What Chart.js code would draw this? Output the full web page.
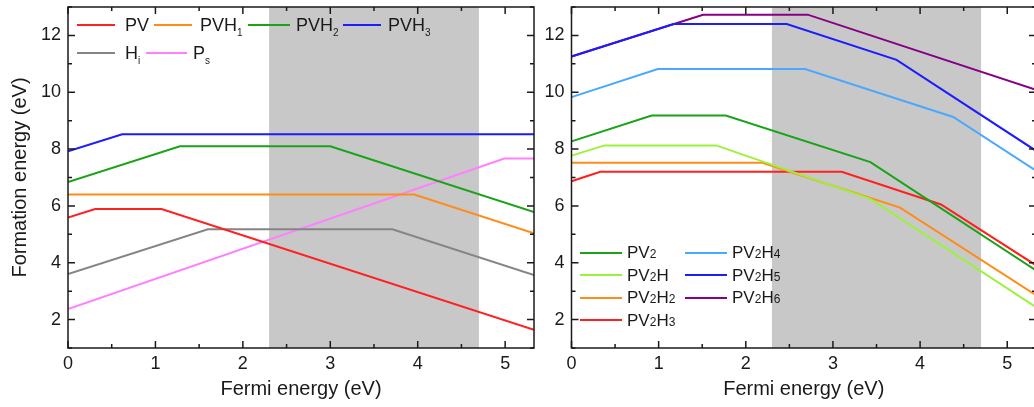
<!DOCTYPE html>
<html><head><meta charset="utf-8">
<script src="https://cdn.jsdelivr.net/npm/chart.js@4.4.1/dist/chart.umd.min.js"></script>
<style>
html,body{margin:0;padding:0;background:#fff;overflow:hidden;width:1034px;height:407px;}
#left{position:absolute;left:0;top:0;}
#right{position:absolute;left:534px;top:0;}
.lgt{position:absolute;font-family:"Liberation Sans",Arial,sans-serif;color:#1a1a1a;white-space:nowrap;}
.lgl{position:absolute;height:2px;}
.subL{font-size:10px;position:relative;top:5px;}
.subR{font-size:12px;}
</style></head><body>
<canvas id="left" width="540" height="407"></canvas>
<canvas id="right" width="506" height="407"></canvas>
<div id="legends"></div>
<script>
// ---------- axes ----------
const xTickValues = [0, 1, 2, 3, 4, 5];
const yTickValues = [2, 4, 6, 8, 10, 12];
const xRange = [0, 5.33];
const yRange = [1, 13];
const bandEdges = [2.3, 4.7];

// ---------- left panel series ----------
const pvX   = [0, 0.31, 1.07, 5.33];      const pvY   = [5.59, 5.89, 5.89, 1.64];
const pvh1X = [0, 3.96, 5.33];            const pvh1Y = [6.40, 6.40, 5.04];
const pvh2X = [0, 1.28, 3.00, 5.33];      const pvh2Y = [6.84, 8.10, 8.10, 5.78];
const pvh3X = [0, 0.62, 5.33];            const pvh3Y = [7.92, 8.52, 8.52];
const hiX   = [0, 1.60, 3.71, 5.33];      const hiY   = [3.60, 5.18, 5.18, 3.57];
const psX   = [0, 4.99, 5.33];            const psY   = [2.37, 7.67, 7.67];

// ---------- right panel series ----------
const pv2X   = [0, 0.92, 1.77, 3.43, 5.33]; const pv2Y   = [8.27, 9.18, 9.18, 7.54, 3.73];
const pv2hX  = [0, 0.38, 1.66, 3.43, 5.33]; const pv2hY  = [7.77, 8.13, 8.13, 6.25, 2.44];
const pv2h2X = [0, 2.19, 3.77, 5.33];       const pv2h2Y = [7.52, 7.52, 5.94, 2.86];
const pv2h3X = [0, 0.33, 3.10, 4.24, 5.33]; const pv2h3Y = [6.87, 7.20, 7.20, 6.05, 3.91];
const pv2h4X = [0, 0.99, 2.68, 4.38, 5.33]; const pv2h4Y = [9.83, 10.82, 10.82, 9.13, 7.24];
const pv2h5X = [0, 1.17, 2.47, 3.73, 5.33]; const pv2h5Y = [11.26, 12.40, 12.40, 11.14, 7.94];
const pv2h6X = [0, 1.51, 2.71, 5.33];       const pv2h6Y = [11.26, 12.73, 12.73, 10.09];

const leftLabels  = ['PV', 'PVH₁', 'PVH₂', 'PVH₃', 'Hᵢ', 'Pₛ'];
const rightLabels = ['PV₂', 'PV₂H', 'PV₂H₂', 'PV₂H₃', 'PV₂H₄', 'PV₂H₅', 'PV₂H₆'];
const leftColors  = ['#ff2020', '#ff8c1a', '#18a318', '#1c1cff', '#858585', '#ff80ff'];
const rightColors = ['#18a318', '#9cf23a', '#ff8c1a', '#ff2020', '#4aa8ff', '#1c1cff', '#850085'];

const FONT = '"Liberation Sans", Arial, sans-serif';
const INK = '#1a1a1a';

function pts(xs, ys) { return xs.map((x, i) => ({ x: x, y: ys[i] })); }
function ds(label, xs, ys, color) {
  return { label: label, data: pts(xs, ys), borderColor: color, backgroundColor: color,
           showLine: true, pointRadius: 0, borderWidth: 2, tension: 0, fill: false };
}

const bandPlugin = {
  id: 'band',
  beforeDatasetsDraw(chart) {
    const { ctx, chartArea: a, scales: { x } } = chart;
    const x0 = x.getPixelForValue(bandEdges[0]), x1 = x.getPixelForValue(bandEdges[1]);
    ctx.save();
    ctx.fillStyle = '#c8c8c8';
    ctx.fillRect(x0, a.top, x1 - x0, a.height);
    ctx.restore();
  }
};

const framePlugin = {
  id: 'frame',
  afterDatasetsDraw(chart) {
    const { ctx, chartArea: a, scales: { x, y } } = chart;
    ctx.save();
    ctx.strokeStyle = INK;
    ctx.lineWidth = 1.5;
    ctx.beginPath();
    for (let k = 0; k * 0.5 <= xRange[1] + 1e-9; k++) {
      const v = k * 0.5;
      const p = x.getPixelForValue(v);
      const L = (k % 2 === 0) ? 7 : 4;
      ctx.moveTo(p, a.bottom); ctx.lineTo(p, a.bottom - L);
      ctx.moveTo(p, a.top); ctx.lineTo(p, a.top + L);
    }
    for (let v = Math.ceil(yRange[0]); v <= yRange[1]; v++) {
      const p = y.getPixelForValue(v);
      const L = (v % 2 === 0) ? 7 : 4;
      ctx.moveTo(a.left, p); ctx.lineTo(a.left + L, p);
      ctx.moveTo(a.right, p); ctx.lineTo(a.right - L, p);
    }
    ctx.stroke();
    ctx.lineWidth = 1.5;
    ctx.strokeRect(a.left, a.top, a.width, a.height);
    ctx.restore();
  }
};

function makeOptions(showYTitle, yAxisWidth, padRight) {
  return {
    responsive: false, animation: false, devicePixelRatio: 1,
    layout: { padding: { top: 7, right: padRight, left: 0, bottom: 0 } },
    plugins: { legend: { display: false }, tooltip: { enabled: false } },
    scales: {
      x: {
        type: 'linear', min: xRange[0], max: xRange[1],
        grid: { display: false, drawTicks: false }, border: { display: false },
        afterBuildTicks: s => { s.ticks = xTickValues.map(v => ({ value: v })); },
        afterFit: s => { s.height = 59; s.paddingLeft = 0; s.paddingRight = 0; },
        ticks: { padding: 5, font: { family: FONT, size: 18 }, color: INK, maxRotation: 0 },
        title: { display: true, text: 'Fermi energy (eV)', font: { family: FONT, size: 20 }, color: INK,
                 padding: { top: 0, bottom: 6 } }
      },
      y: {
        type: 'linear', min: yRange[0], max: yRange[1],
        grid: { display: false, drawTicks: false }, border: { display: false },
        afterBuildTicks: s => { s.ticks = yTickValues.map(v => ({ value: v })); },
        afterFit: s => { s.width = yAxisWidth; s.paddingTop = 0; s.paddingBottom = 0; },
        ticks: { padding: 7, font: { family: FONT, size: 18 }, color: INK },
        title: { display: showYTitle, text: 'Formation energy (eV)', font: { family: FONT, size: 20 }, color: INK,
                 padding: { top: 8, bottom: 0 } }
      }
    }
  };
}

new Chart(document.getElementById('left'), {
  type: 'scatter',
  data: { datasets: [
    ds(leftLabels[0], pvX, pvY, leftColors[0]),
    ds(leftLabels[1], pvh1X, pvh1Y, leftColors[1]),
    ds(leftLabels[2], pvh2X, pvh2Y, leftColors[2]),
    ds(leftLabels[3], pvh3X, pvh3Y, leftColors[3]),
    ds(leftLabels[4], hiX, hiY, leftColors[4]),
    ds(leftLabels[5], psX, psY, leftColors[5])
  ] },
  options: makeOptions(true, 68, 6),
  plugins: [bandPlugin, framePlugin]
});

new Chart(document.getElementById('right'), {
  type: 'scatter',
  data: { datasets: [
    ds(rightLabels[0], pv2X, pv2Y, rightColors[0]),
    ds(rightLabels[1], pv2hX, pv2hY, rightColors[1]),
    ds(rightLabels[2], pv2h2X, pv2h2Y, rightColors[2]),
    ds(rightLabels[3], pv2h3X, pv2h3Y, rightColors[3]),
    ds(rightLabels[4], pv2h4X, pv2h4Y, rightColors[4]),
    ds(rightLabels[5], pv2h5X, pv2h5Y, rightColors[5]),
    ds(rightLabels[6], pv2h6X, pv2h6Y, rightColors[6])
  ] },
  options: makeOptions(false, 37.5, 4),
  plugins: [bandPlugin, framePlugin]
});

// ---------- legends (HTML text) ----------
function subHTML(label, cls) {
  const map = { '₁': '1', '₂': '2', '₃': '3', '₄': '4', '₅': '5', '₆': '6', 'ᵢ': 'i', 'ₛ': 's' };
  let out = '';
  for (const ch of label) {
    out += map[ch] ? '<span class="' + cls + '">' + map[ch] + '</span>' : ch;
  }
  return out;
}
const host = document.getElementById('legends');
function item(label, color, lx, lw, tx, cy, size, cls) {
  const l = document.createElement('div');
  l.className = 'lgl';
  l.style.cssText = 'left:' + lx + 'px;top:' + (cy - 1) + 'px;width:' + lw + 'px;background:' + color + ';';
  host.appendChild(l);
  const t = document.createElement('div');
  t.className = 'lgt';
  t.style.cssText = 'left:' + tx + 'px;top:' + (cy - size / 2) + 'px;font-size:' + size + 'px;line-height:' + size + 'px;';
  t.innerHTML = subHTML(label, cls);
  host.appendChild(t);
}
// left legend layout
const leftLegendLayout = [
  [77, 38, 125, 25], [154, 38, 200, 25], [248, 42, 296, 25], [343, 38, 388, 25],
  [77, 38, 125, 53], [146, 41, 193, 53]
];
leftLegendLayout.forEach((p, i) => item(leftLabels[i], leftColors[i], p[0], p[1], p[2], p[3], 18, 'subL'));
// right legend layout
const rightLegendLayout = [
  [580, 42, 627, 252.5], [580, 42, 627, 275], [580, 42, 627, 297.5], [580, 42, 627, 320],
  [685, 42, 732, 252.5], [685, 42, 732, 275], [685, 42, 732, 297.5]
];
rightLegendLayout.forEach((p, i) => item(rightLabels[i], rightColors[i], p[0], p[1], p[2], p[3], 17, 'subR'));
</script>
</body></html>
